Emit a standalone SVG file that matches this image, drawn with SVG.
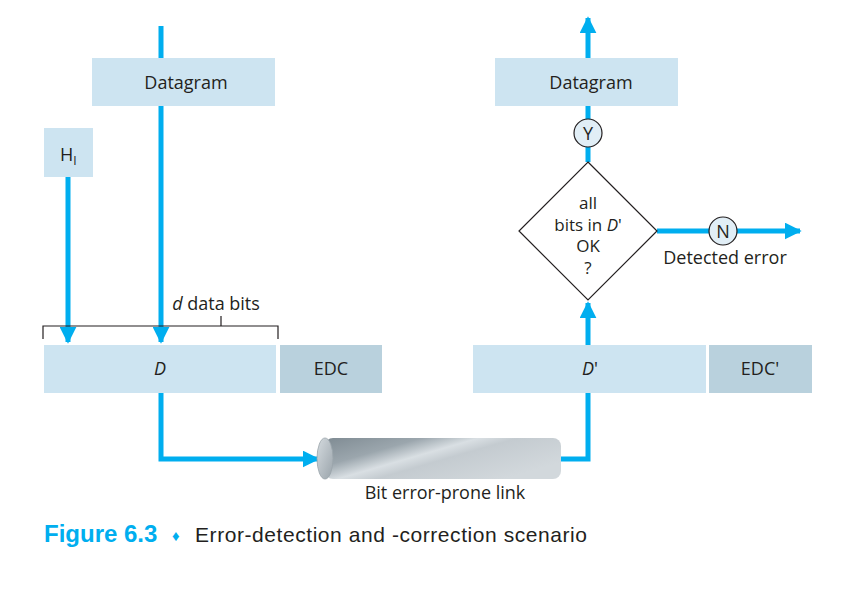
<svg xmlns="http://www.w3.org/2000/svg" width="853" height="610" viewBox="0 0 853 610">
<style>
text{font-family:"Open Sans","Noto Sans","Liberation Sans",sans-serif;font-size:18px;fill:#231f20}
.lt{fill:#cde4f1}
.dk{fill:#b9d1dd}
.w{stroke:#00aeef;stroke-width:5;fill:none}
.k{stroke:#231f20;stroke-width:1.2;fill:none}
.c{fill:#e1eef6;stroke:#231f20;stroke-width:1.2}
.dm{font-size:17px}
</style>
<defs>
<marker id="ah" viewBox="0 0 10 10" refX="9" refY="5" markerWidth="3.4" markerHeight="3.4" orient="auto" markerUnits="strokeWidth">
<path d="M0,0 L10,5 L0,10 z" fill="#00aeef"/>
</marker>
<linearGradient id="cyl" x1="0" y1="0" x2="1" y2="0.6">
<stop offset="0" stop-color="#7f8b93"/>
<stop offset="0.3" stop-color="#9ba6ad"/>
<stop offset="0.48" stop-color="#d9dfe3"/>
<stop offset="0.6" stop-color="#c4cbd0"/>
<stop offset="1" stop-color="#d2d8dc"/>
</linearGradient>
<linearGradient id="cap" x1="0" y1="0" x2="1" y2="1">
<stop offset="0" stop-color="#d5dbdf"/>
<stop offset="1" stop-color="#9aa4ab"/>
</linearGradient>
</defs>
<g id="connectors">
<path class="w" d="M161,26 V342" marker-end="url(#ah)"/>
<path class="w" d="M68,177 V342" marker-end="url(#ah)"/>
<path class="w" d="M161,393 V459 H318" marker-end="url(#ah)"/>
<path class="w" d="M559,459 H588 V303" marker-end="url(#ah)"/>
<path class="w" d="M588,162 V18" marker-end="url(#ah)"/>
<path class="w" d="M657,231 H800" marker-end="url(#ah)"/>
</g>
<g id="datagram-left"><rect class="lt" x="92" y="58" width="183" height="48"/><text x="186" y="89" text-anchor="middle">Datagram</text></g>
<g id="header"><rect class="lt" x="44" y="128" width="49" height="49"/><text x="60" y="161">H<tspan font-size="12" dy="4">I</tspan></text></g>
<g id="bracket"><path class="k" d="M43,339 V326 H278 V339 M221,326 V316"/><text x="216" y="310" text-anchor="middle"><tspan font-style="italic">d</tspan> data bits</text></g>
<g id="D"><rect class="lt" x="44" y="345" width="232" height="48"/><text x="160" y="375" text-anchor="middle" font-style="italic">D</text></g>
<g id="EDC"><rect class="dk" x="280" y="345" width="102" height="48"/><text x="331" y="375" text-anchor="middle">EDC</text></g>
<g id="link">
<rect x="325" y="438" width="236" height="41" rx="8" fill="url(#cyl)"/>
<ellipse cx="325" cy="458.5" rx="8" ry="20.5" fill="url(#cap)" stroke="#9aa4ab" stroke-width="0.8"/>
<text x="445" y="499" text-anchor="middle">Bit error-prone link</text>
</g>
<g id="Dprime"><rect class="lt" x="473" y="345" width="233" height="48"/><text x="590" y="375" text-anchor="middle"><tspan font-style="italic">D</tspan>'</text></g>
<g id="EDCprime"><rect class="dk" x="709" y="345" width="103" height="48"/><text x="760" y="375" text-anchor="middle">EDC'</text></g>
<g id="decision">
<path d="M588,162 L657,231 L588,300 L519,231 Z" fill="#fff" stroke="#231f20" stroke-width="1.2"/>
<text class="dm" x="588" y="209" text-anchor="middle">all</text>
<text class="dm" x="588" y="231" text-anchor="middle">bits in <tspan font-style="italic">D</tspan>'</text>
<text class="dm" x="588" y="252" text-anchor="middle">OK</text>
<text class="dm" x="588" y="274" text-anchor="middle">?</text>
</g>
<g id="Y"><circle class="c" cx="588" cy="133" r="14"/><text x="588" y="139.5" text-anchor="middle">Y</text></g>
<g id="N"><circle class="c" cx="723" cy="231" r="14"/><text x="723" y="237.5" text-anchor="middle">N</text></g>
<text x="725" y="264" text-anchor="middle">Detected error</text>
<g id="datagram-right"><rect class="lt" x="495" y="58" width="183" height="48"/><text x="591" y="89" text-anchor="middle">Datagram</text></g>
<text x="44" y="542" style="font-family:'Liberation Sans',sans-serif;font-size:24px;font-weight:bold;fill:#00aeef">Figure 6.3</text>
<text x="172" y="541" style="font-size:15px;fill:#00aeef">♦</text>
<text x="195" y="542" style="font-family:'Liberation Sans',sans-serif;font-size:21px" textLength="392">Error-detection and -correction scenario</text>
</svg>
